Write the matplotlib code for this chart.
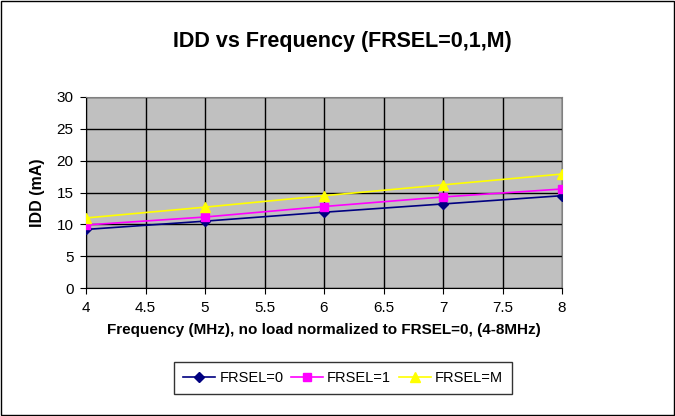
import matplotlib
matplotlib.use("Agg")
import matplotlib.pyplot as plt
from matplotlib.patches import Rectangle

freq = [4, 5, 6, 7, 8]
idd_frsel0 = [9.2, 10.5, 11.9, 13.2, 14.5]
idd_frsel1 = [9.9, 11.15, 12.8, 14.3, 15.55]
idd_frselm = [11.0, 12.7, 14.5, 16.2, 17.9]
series_labels = ["FRSEL=0", "FRSEL=1", "FRSEL=M"]
x_ticks = [4, 4.5, 5, 5.5, 6, 6.5, 7, 7.5, 8]
x_tick_labels = ["4", "4.5", "5", "5.5", "6", "6.5", "7", "7.5", "8"]

plt.rcParams["font.family"] = ["Liberation Sans", "DejaVu Sans"]

fig = plt.figure(figsize=(6.75, 4.16), dpi=100)
W, H = 675, 416
ax = fig.add_axes([86 / W, 1 - 288 / H, (562 - 86) / W, (288 - 97) / H])
ax.set_facecolor("#C0C0C0")

ax.plot(freq, idd_frsel0, color="#000080", marker="D", markersize=5, lw=1.2, label=series_labels[0], zorder=3)
ax.plot(freq, idd_frsel1, color="#FF00FF", marker="s", markersize=6, lw=1.2, label=series_labels[1], zorder=3)
ax.plot(freq, idd_frselm, color="#FFFF00", marker="^", markersize=7, lw=1.2, label=series_labels[2], zorder=3)

ax.set_xlim(4, 8)
ax.set_ylim(0, 30)
ax.set_xticks(x_ticks)
ax.set_xticklabels(x_tick_labels)
ax.set_yticks(range(0, 31, 5))
ax.grid(True, color="black", lw=1)
ax.set_axisbelow(True)
for side in ["top", "right"]:
    ax.spines[side].set_color("#808080")
for side in ["left", "bottom"]:
    ax.spines[side].set_color("black")
ax.tick_params(direction="out", length=4, labelsize=11, pad=5)

ax.set_xlabel("Frequency (MHz), no load normalized to FRSEL=0, (4-8MHz)",
              fontsize=11, fontweight="bold", labelpad=6)
ax.set_ylabel("IDD (mA)", fontsize=11.5, fontweight="bold", labelpad=8)
fig.text(342 / W, 1 - 42 / H, "IDD vs Frequency (FRSEL=0,1,M)",
         ha="center", va="center", fontsize=15.5, fontweight="bold")

leg = fig.legend(loc="center", bbox_to_anchor=(343 / W, 1 - 378 / H), ncol=3,
                 frameon=True, fancybox=False, edgecolor="black", fontsize=10.5,
                 handlelength=2.2, handletextpad=0.3, columnspacing=0.5, borderpad=0.6,
                 borderaxespad=0)
leg.get_frame().set_linewidth(1)

fig.patches.append(Rectangle((0.001, 0.002), 0.997, 0.996, transform=fig.transFigure,
                             fill=False, edgecolor="black", lw=1))

fig.savefig("out.png", dpi=100)
